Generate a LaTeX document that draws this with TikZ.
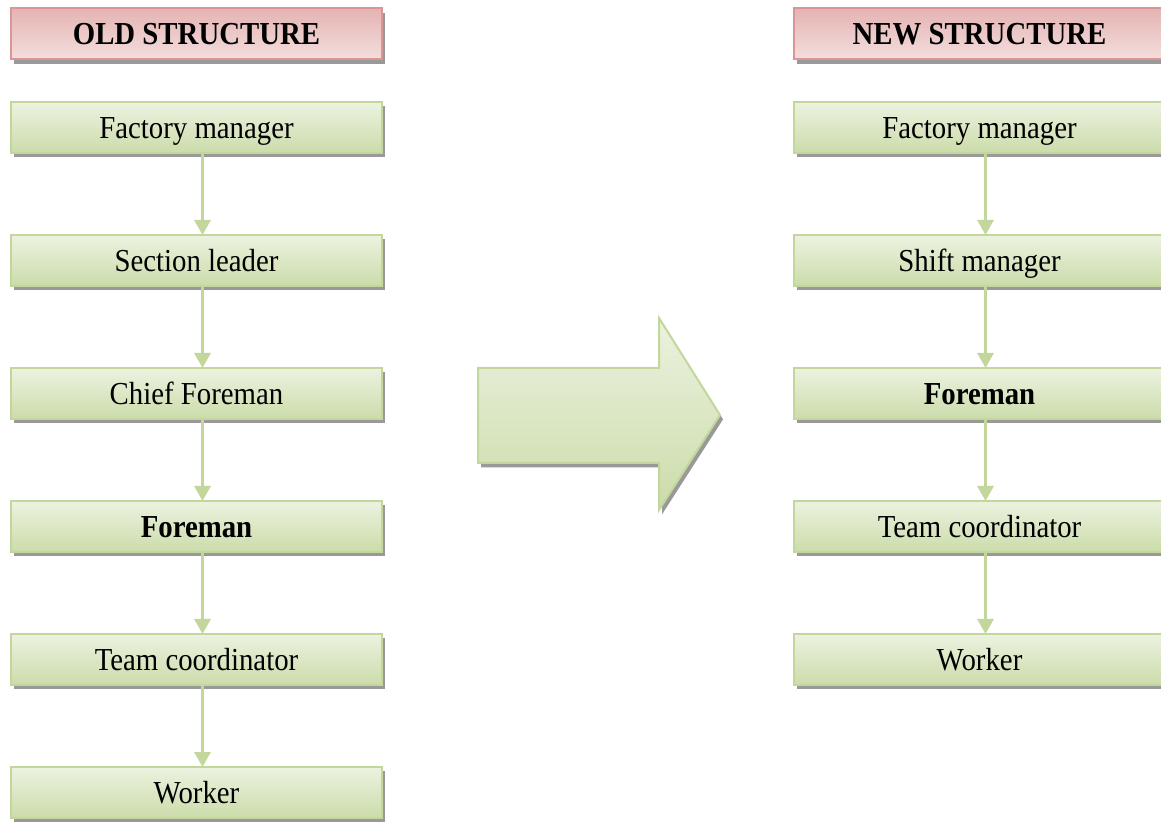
\documentclass[tikz,border=0pt]{standalone}
\usepackage{fontspec}
\setmainfont[FakeStretch=0.9]{Liberation Serif}
\usetikzlibrary{arrows.meta, shadows}

\definecolor{greenline}{RGB}{195,214,155}
\definecolor{greenlight}{RGB}{236,242,224}
\definecolor{greendark}{RGB}{203,220,170}
\definecolor{pinkline}{RGB}{217,150,149}
\definecolor{pinkdark}{RGB}{228,180,179}
\definecolor{pinklight}{RGB}{243,222,221}

\begin{document}
\begin{tikzpicture}[x=0.5pt, y=-0.5pt,
block/.style={rectangle, text centered, minimum width=185.5pt, minimum height=25.5pt,
text height=13pt, text depth=2pt,
inner sep=0pt, outer sep=0pt, node distance=66.5pt, line width=1pt, draw=greenline,
top color=greenlight, bottom color=greendark, font=\fontsize{16pt}{19pt}\selectfont,
drop shadow={shadow xshift=1.5pt, shadow yshift=-2.2pt, fill=black!40, opacity=1}},
block-head/.style={block, draw=pinkline, top color=pinkdark, bottom color=pinklight,
font=\fontsize{16pt}{19pt}\selectfont\bfseries},
line/.style={draw=greenline, line width=1.5pt, -{Triangle[width=8pt, length=7.5pt]}},
bigarrow/.style={draw=greenline, line width=1pt, top color=greenlight, bottom color=greendark,
drop shadow={shadow xshift=1.5pt, shadow yshift=-2.2pt, fill=black!40, opacity=1}}
]
\useasboundingbox (0,0) rectangle (1161,822);

% old structure
\node [block-head] (oldhead) at (196.5,34) {OLD STRUCTURE};
\node [block, node distance=46.75pt, below of=oldhead] (oldfactory) {Factory manager};
\node [block, below of=oldfactory] (oldsection) {Section leader};
\node [block, below of=oldsection] (oldchief) {Chief Foreman};
\node [block, below of=oldchief] (oldforeman) {\textbf{Foreman}};
\node [block, below of=oldforeman] (oldteam) {Team coordinator};
\node [block, below of=oldteam] (oldworker) {Worker};

\path [line] ([xshift=3pt]oldfactory.south) -- ([xshift=3pt]oldsection.north);
\path [line] ([xshift=3pt]oldsection.south) -- ([xshift=3pt]oldchief.north);
\path [line] ([xshift=3pt]oldchief.south) -- ([xshift=3pt]oldforeman.north);
\path [line] ([xshift=3pt]oldforeman.south) -- ([xshift=3pt]oldteam.north);
\path [line] ([xshift=3pt]oldteam.south) -- ([xshift=3pt]oldworker.north);

% new structure
\node [block-head] (newhead) at (979.5,34) {NEW STRUCTURE};
\node [block, node distance=46.75pt, below of=newhead] (newfactory) {Factory manager};
\node [block, below of=newfactory] (newshift) {Shift manager};
\node [block, below of=newshift] (newforeman) {\textbf{Foreman}};
\node [block, below of=newforeman] (newteam) {Team coordinator};
\node [block, below of=newteam] (newworker) {Worker};

\path [line] ([xshift=3pt]newfactory.south) -- ([xshift=3pt]newshift.north);
\path [line] ([xshift=3pt]newshift.south) -- ([xshift=3pt]newforeman.north);
\path [line] ([xshift=3pt]newforeman.south) -- ([xshift=3pt]newteam.north);
\path [line] ([xshift=3pt]newteam.south) -- ([xshift=3pt]newworker.north);

% big arrow
\path [bigarrow] (478,368) -- (659,368) -- (659,318) -- (720,415) -- (659,510)
-- (659,463) -- (478,463) -- cycle;
\end{tikzpicture}
\end{document}
